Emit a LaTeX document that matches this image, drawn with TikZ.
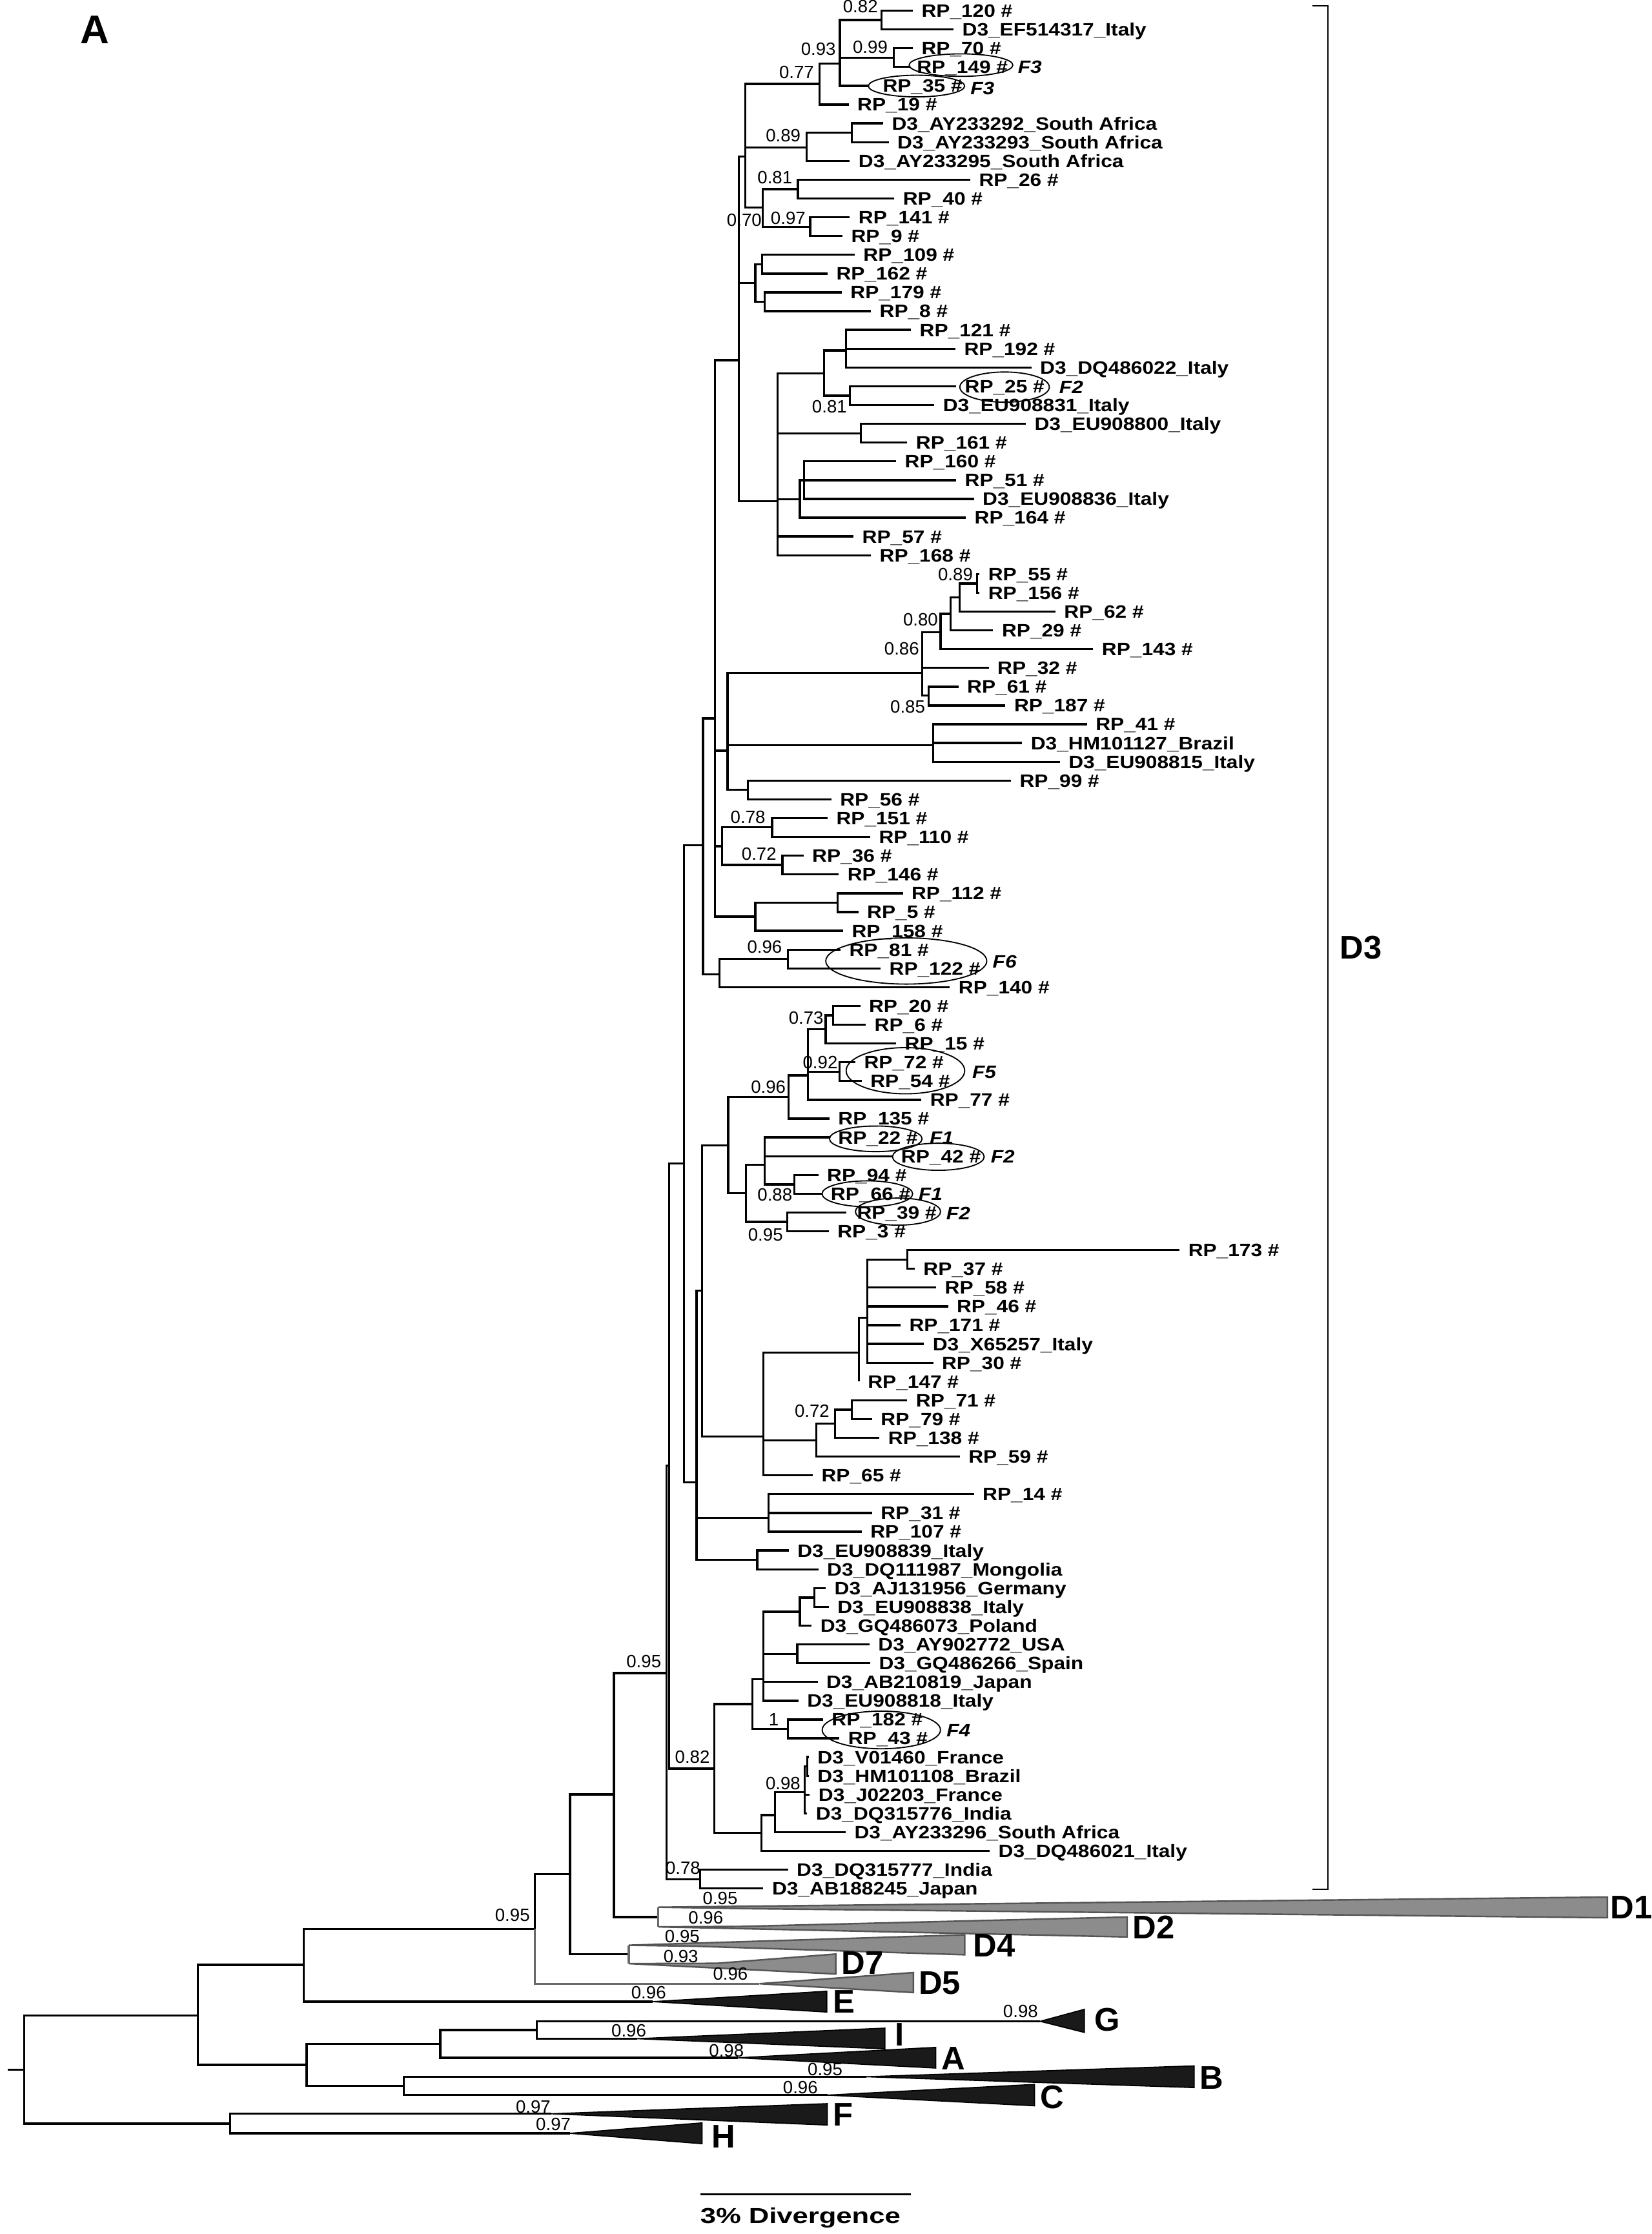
\documentclass[tikz,border=0pt]{standalone}
\usepackage{fontspec}
\setmainfont{Liberation Sans}
\newfontfamily\tipfam[FakeStretch=1.14]{Liberation Sans}
\newfontfamily\scfam[FakeStretch=1.3]{Liberation Sans}
\usetikzlibrary{calc}
\definecolor{dgray}{HTML}{555555}
\definecolor{lgray}{HTML}{8C8C8C}
\definecolor{bfill}{HTML}{1A1A1A}
\definecolor{bgray}{HTML}{6A6A6A}
\newcommand\mytip[5][6]{%
  \pgfmathsetmacro\tipy{7.5+(#2-1)*13.18}%
  \coordinate (t#2) at (#4,\tipy);
  \draw[br] (#3) |- (t#2);
  \pgfmathsetmacro\labx{#4+#1}%
  \pgfmathsetmacro\laby{\tipy+4.5}%
  \node[tiplab] (tl#2) at (\labx,\laby) {#5};
}
\begin{document}
\begin{tikzpicture}[x=0.5mm,y=-0.5mm,
  br/.style={line width=0.75mm,line join=miter},
  gbr/.style={br,draw=bgray},
  tiplab/.style={font=\tipfam\bfseries\fontsize{17.9}{18}\selectfont,anchor=base west,inner sep=0pt},
  sup/.style={font=\fontsize{17.8}{18}\selectfont,inner sep=0pt},
  big/.style={font=\bfseries\fontsize{32.7}{34}\selectfont,anchor=west,inner sep=0pt},
  flab/.style={font=\tipfam\bfseries\itshape\fontsize{17.9}{18}\selectfont,anchor=west,inner sep=0pt},
  ell/.style={line width=0.42mm},
  dclade/.style={fill=lgray,draw=dgray,line width=0.55mm,line join=miter},
  bclade/.style={fill=bfill,draw=black,line width=0.4mm,line join=miter}]
\useasboundingbox (0,0) rectangle (1159,1568);
% ---------- internal nodes ----------
\coordinate (a1) at (618.5,14.1);
\coordinate (a2) at (627.1,40.5);
\coordinate (a3) at (589.4,44.6);
\coordinate (a4) at (575.1,58.9);
\coordinate (b2) at (597.7,93.2);
\coordinate (b1) at (566,103.4);
\coordinate (c2) at (560,132.7);
\coordinate (c3) at (568.6,159.1);
\coordinate (c1) at (535.3,145.7);
\coordinate (n523) at (523.1,110);
\coordinate (d1) at (534.8,185.4);
\coordinate (d2) at (536.6,211.8);
\coordinate (d0) at (530.1,198.6);
\coordinate (e1) at (593.8,246);
\coordinate (e2) at (596.4,277.7);
\coordinate (e0) at (578.2,262);
\coordinate (e3) at (604.2,304.1);
\coordinate (e5) at (564.4,337);
\coordinate (e4) at (561.3,350.3);
\coordinate (E0) at (545.7,351.7);
\coordinate (n518) at (518.4,252.8);
\coordinate (f5) at (685.6,409.5);
\coordinate (f4) at (673.6,419.4);
\coordinate (f3) at (667.1,430.9);
\coordinate (f2) at (660.1,443.7);
\coordinate (f6) at (651.8,488.3);
\coordinate (f1) at (647.1,472.2);
\coordinate (g1) at (654.9,523);
\coordinate (g2) at (524.9,554.3);
\coordinate (n510) at (510.6,526.9);
\coordinate (h1) at (541.8,580.7);
\coordinate (h2) at (549.1,607.1);
\coordinate (n506) at (506.7,594);
\coordinate (i1) at (587.8,633.5);
\coordinate (i0) at (530.1,643.3);
\coordinate (n502) at (501.8,504.3);
\coordinate (j1) at (553,673);
\coordinate (n505) at (504.9,683.9);
\coordinate (n493) at (493.3,593.3);
\coordinate (k3) at (584.7,712.6);
\coordinate (k2) at (579.5,722.5);
\coordinate (k4) at (589.1,752.2);
\coordinate (k1) at (567,754.8);
\coordinate (k0) at (553.5,770);
\coordinate (l3) at (557.4,831.3);
\coordinate (l2) at (536.6,817.5);
\coordinate (l4) at (552.5,857.6);
\coordinate (l1) at (523.6,837.6);
\coordinate (n511) at (511,803.9);
\coordinate (m3) at (636.7,884);
\coordinate (m2) at (608.6,925);
\coordinate (m1) at (602.9,949.3);
\coordinate (n3) at (597.7,989.4);
\coordinate (n2) at (586,999.3);
\coordinate (n1) at (573,1010.9);
\coordinate (m0) at (535.6,1008.4);
\coordinate (n493b) at (492.7,905.8);
\coordinate (o1) at (539.3,1065.4);
\coordinate (o2) at (531.4,1094.9);
\coordinate (n489) at (488.8,1040.3);
\coordinate (n480) at (480.1,816.6);
\coordinate (p2) at (571.6,1121.3);
\coordinate (p1) at (561.3,1131.2);
\coordinate (p3) at (559.5,1160.9);
\coordinate (p0) at (535.7,1178.5);
\coordinate (p4) at (553,1213.6);
\coordinate (pA) at (527.9,1196);
\coordinate (q3) at (566.4,1239.8);
\coordinate (q2) at (564.6,1258);
\coordinate (q1) at (543.8,1273.9);
\coordinate (q0) at (534.3,1286.5);
\coordinate (n082) at (501.2,1241.3);
\coordinate (nA) at (469.6,1028.7);
\coordinate (r1) at (491.3,1318.9);
\coordinate (nB) at (467.7,1174.3);
\coordinate (n095) at (430.8,1259.5);
\coordinate (D12) at (462,1345.5);
\coordinate (Rf) at (400,1315.5);
\coordinate (D47) at (441.2,1371.7);
\coordinate (Re) at (375.5,1353.9);
\coordinate (Rc) at (213.3,1379);
\coordinate (Ri) at (376.7,1424.8);
\coordinate (Rg) at (309,1434.5);
\coordinate (Rh) at (283.5,1464.1);
\coordinate (Rd) at (215.2,1449.3);
\coordinate (Ra) at (139,1414.7);
\coordinate (Rb) at (161.5,1490.5);
\coordinate (R) at (16.9,1452.6);
\coordinate (R0) at (5.6,1452.6);
% ---------- internal edges ----------
\foreach \p/\c in {a3/a1,a3/a2,a4/a3,b1/b2,c1/c2,c1/c3,n523/a4,n523/b1,n523/c1,d0/d1,d0/d2,e0/e1,e0/e2,e4/e5,E0/e0,E0/e3,E0/e4,n518/n523,n518/d0,n518/E0,f4/f5,f3/f4,f2/f3,f1/f2,f1/f6,n510/f1,n510/g1,n510/g2,n506/h1,n506/h2,i0/i1,n502/n518,n502/n510,n502/n506,n502/i0,n505/j1,n493/n502,n493/n505,k2/k3,k1/k2,k1/k4,k0/k1,l2/l3,l1/l2,l1/l4,n511/k0,n511/l1,m2/m3,m1/m2,n2/n3,n1/n2,m0/m1,m0/n1,n493b/n511,n493b/m0,n489/n493b,n489/o1,n489/o2,n480/n493,n480/n489,p1/p2,p0/p1,p0/p3,pA/p0,pA/p4,q2/q3,q1/q2,q0/q1,n082/pA,n082/q0,nA/n480,nA/n082,nB/nA,nB/r1,n095/nB,n095/D12,Rf/n095,Rf/D47,Re/Rf,Rc/Re,Rg/Ri,Rd/Rg,Rd/Rh,Ra/Rc,Ra/Rd,R/Ra,R/Rb}
  \draw[br] (\p) |- (\c);
\draw[br] (R0) -- (R);
% ---------- tips ----------
\mytip{1}{a1}{640.6}{RP\_120 \#}
\mytip{2}{a1}{669.2}{D3\_EF514317\_Italy}
\mytip{3}{a2}{640.6}{RP\_70 \#}
\mytip[4.5]{4}{a2}{638.8}{RP\_149 \#}
\mytip[10]{5}{a3}{609.4}{RP\_35 \#}
\mytip{6}{a4}{595.6}{RP\_19 \#}
\mytip{7}{b2}{619.8}{D3\_AY233292\_South Africa}
\mytip{8}{b2}{623.7}{D3\_AY233293\_South Africa}
\mytip{9}{b1}{596.4}{D3\_AY233295\_South Africa}
\mytip{10}{c2}{680.9}{RP\_26 \#}
\mytip{11}{c2}{627.6}{RP\_40 \#}
\mytip{12}{c3}{596.4}{RP\_141 \#}
\mytip{13}{c3}{591.2}{RP\_9 \#}
\mytip{14}{d1}{599.8}{RP\_109 \#}
\mytip{15}{d1}{580.8}{RP\_162 \#}
\mytip{16}{d2}{590.7}{RP\_179 \#}
\mytip{17}{d2}{611.2}{RP\_8 \#}
\mytip{18}{e1}{639.3}{RP\_121 \#}
\mytip{19}{e1}{670.5}{RP\_192 \#}
\mytip{20}{e1}{723.8}{D3\_DQ486022\_Italy}
\mytip{21}{e2}{671}{RP\_25 \#}
\mytip{22}{e2}{655.7}{D3\_EU908831\_Italy}
\mytip{23}{e3}{719.9}{D3\_EU908800\_Italy}
\mytip{24}{e3}{636.7}{RP\_161 \#}
\mytip{25}{e5}{628.9}{RP\_160 \#}
\mytip{26}{e5}{671}{RP\_51 \#}
\mytip{27}{e5}{683.5}{D3\_EU908836\_Italy}
\mytip{28}{e4}{677.8}{RP\_164 \#}
\mytip{29}{E0}{599}{RP\_57 \#}
\mytip{30}{E0}{611.2}{RP\_168 \#}
\mytip{31}{f5}{687.4}{RP\_55 \#}
\mytip{32}{f5}{687.4}{RP\_156 \#}
\mytip{33}{f4}{740.7}{RP\_62 \#}
\mytip{34}{f3}{697}{RP\_29 \#}
\mytip{35}{f2}{767.2}{RP\_143 \#}
\mytip{36}{f1}{693.9}{RP\_32 \#}
\mytip{37}{f6}{672.6}{RP\_61 \#}
\mytip{38}{f6}{705.6}{RP\_187 \#}
\mytip{39}{g1}{762.8}{RP\_41 \#}
\mytip{40}{g1}{717.3}{D3\_HM101127\_Brazil}
\mytip{41}{g1}{743.8}{D3\_EU908815\_Italy}
\mytip{42}{g2}{709.5}{RP\_99 \#}
\mytip{43}{g2}{583.4}{RP\_56 \#}
\mytip{44}{h1}{580.8}{RP\_151 \#}
\mytip{45}{h1}{610.7}{RP\_110 \#}
\mytip{46}{h2}{563.9}{RP\_36 \#}
\mytip{47}{h2}{588.6}{RP\_146 \#}
\mytip{48}{i1}{633.6}{RP\_112 \#}
\mytip{49}{i1}{602.4}{RP\_5 \#}
\mytip{50}{i0}{591.7}{RP\_158 \#}
\mytip{51}{j1}{589.9}{RP\_81 \#}
\mytip{52}{j1}{618}{RP\_122 \#}
\mytip{53}{n505}{666.6}{RP\_140 \#}
\mytip{54}{k3}{603.7}{RP\_20 \#}
\mytip{55}{k3}{607.6}{RP\_6 \#}
\mytip{56}{k2}{628.9}{RP\_15 \#}
\mytip{57}{k4}{600.3}{RP\_72 \#}
\mytip{58}{k4}{604.7}{RP\_54 \#}
\mytip{59}{k1}{646.6}{RP\_77 \#}
\mytip{60}{k0}{582.1}{RP\_135 \#}
\mytip{61}{l2}{582.1}{RP\_22 \#}
\mytip{62}{l2}{626.3}{RP\_42 \#}
\mytip{63}{l3}{574.3}{RP\_94 \#}
\mytip{64}{l3}{576.9}{RP\_66 \#}
\mytip[7.5]{65}{l4}{593.8}{RP\_39 \#}
\mytip{66}{l4}{581.6}{RP\_3 \#}
\mytip{67}{m3}{827.8}{RP\_173 \#}
\mytip{68}{m3}{641.9}{RP\_37 \#}
\mytip{69}{m2}{657}{RP\_58 \#}
\mytip{70}{m2}{665.3}{RP\_46 \#}
\mytip{71}{m2}{632}{RP\_171 \#}
\mytip{72}{m2}{648.4}{D3\_X65257\_Italy}
\mytip{73}{m2}{654.9}{RP\_30 \#}
\mytip{74}{m1}{602.9}{RP\_147 \#}
\mytip{75}{n3}{636.7}{RP\_71 \#}
\mytip{76}{n3}{612}{RP\_79 \#}
\mytip{77}{n2}{617.2}{RP\_138 \#}
\mytip{78}{n1}{673.6}{RP\_59 \#}
\mytip{79}{m0}{570.4}{RP\_65 \#}
\mytip{80}{o1}{683.5}{RP\_14 \#}
\mytip{81}{o1}{612}{RP\_31 \#}
\mytip{82}{o1}{604.7}{RP\_107 \#}
\mytip{83}{o2}{553.5}{D3\_EU908839\_Italy}
\mytip{84}{o2}{574.3}{D3\_DQ111987\_Mongolia}
\mytip{85}{p2}{579.5}{D3\_AJ131956\_Germany}
\mytip{86}{p2}{581.6}{D3\_EU908838\_Italy}
\mytip{87}{p1}{569.6}{D3\_GQ486073\_Poland}
\mytip{88}{p3}{610.2}{D3\_AY902772\_USA}
\mytip{89}{p3}{610.7}{D3\_GQ486266\_Spain}
\mytip{90}{p0}{573.8}{D3\_AB210819\_Japan}
\mytip{91}{p0}{560.3}{D3\_EU908818\_Italy}
\mytip{92}{p4}{577.6}{RP\_182 \#}
\mytip{93}{p4}{589.1}{RP\_43 \#}
\mytip{94}{q3}{567.6}{D3\_V01460\_France}
\mytip{95}{q3}{567.6}{D3\_HM101108\_Brazil}
\mytip{96}{q2}{568.3}{D3\_J02203\_France}
\mytip{97}{q2}{566.5}{D3\_DQ315776\_India}
\mytip{98}{q1}{593.5}{D3\_AY233296\_South Africa}
\mytip{99}{q0}{694.6}{D3\_DQ486021\_Italy}
\mytip{100}{r1}{553}{D3\_DQ315777\_India}
\mytip{101}{r1}{535.7}{D3\_AB188245\_Japan}
% ---------- collapsed clades ----------
\coordinate (D1p) at (462,1338.6); \coordinate (D1t) at (1128,1331.5);
\coordinate (D1b) at (1128,1346); \coordinate (D1a) at (522,1339.6);
\coordinate (D2p) at (462,1352.4); \coordinate (D2a) at (520,1352.1);
\coordinate (D2t) at (791,1345.5); \coordinate (D2b) at (791,1359.5);
\coordinate (D4p) at (441.2,1365.3); \coordinate (D4t) at (677,1358);
\coordinate (D4b) at (677,1372); \coordinate (D4a) at (488,1366);
\coordinate (D7p) at (441.2,1378.2); \coordinate (D7a) at (503,1378);
\coordinate (D7t) at (586.5,1371.5); \coordinate (D7b) at (586.5,1385.5);
\coordinate (D5a) at (533,1392.3); \coordinate (D5t) at (641,1384.5); \coordinate (D5b) at (641,1398.5);
\draw[gbr] (D12) |- (D1p);
\draw[gbr] (D12) |- (D2p);
\draw[gbr] (D47) |- (D4p);
\draw[gbr] (D47) |- (D7p);
\draw[gbr] (Re) |- (D5a);
\draw[dclade] (D1p) -- (D1t) -- (D1b) -- (D1a) -- cycle;
\draw[dclade] (D2p) -- (D2a) -- (D2t) -- (D2b) -- cycle;
\draw[dclade] (D4p) -- (D4t) -- (D4b) -- (D4a) -- cycle;
\draw[dclade] (D7p) -- (D7a) -- (D7t) -- (D7b) -- cycle;
\draw[dclade] (D5a) -- (D5t) -- (D5b) -- cycle;
\coordinate (Ea) at (458.2,1404.9); \coordinate (Et) at (580.2,1397.6); \coordinate (Eb) at (580.2,1412.2);
\coordinate (Ga) at (730,1418.7); \coordinate (Gt) at (761,1410.3); \coordinate (Gb) at (761,1426.5);
\coordinate (Ia) at (447,1430.9); \coordinate (It) at (621,1423.5); \coordinate (Ib) at (621,1438);
\coordinate (Aa) at (518,1444.3); \coordinate (At) at (656.7,1437); \coordinate (Ab) at (656.7,1451.5);
\coordinate (Ba) at (608,1457.6); \coordinate (Bt) at (838,1450); \coordinate (Bb) at (838,1465.2);
\coordinate (Ca) at (580.8,1470.5); \coordinate (Ct) at (726,1463); \coordinate (Cb) at (726,1478);
\coordinate (Fa) at (387,1483.6); \coordinate (Ft) at (580.6,1476.5); \coordinate (Fb) at (580.6,1491.5);
\coordinate (Ha) at (400,1497.3); \coordinate (Ht) at (492.7,1490); \coordinate (Hb) at (492.7,1504.6);
\foreach \p/\c in {Rc/Ea,Ri/Ga,Ri/Ia,Rg/Aa,Rh/Ba,Rh/Ca,Rb/Fa,Rb/Ha}
  \draw[br] (\p) |- (\c);
\foreach \k in {E,G,I,A,B,C,F,H}
  \draw[bclade] (\k a) -- (\k t) -- (\k b) -- cycle;
% ---------- ellipses ----------
\draw[ell] (674.4,45.7) ellipse [x radius=18.2mm, y radius=3.95mm];
\draw[ell] (643.2,60.4) ellipse [x radius=16.9mm, y radius=3.8mm];
\draw[ell] (705,271.7) ellipse [x radius=15.7mm, y radius=5.3mm];
\draw[ell] (636,674.5) ellipse [x radius=28.25mm, y radius=8.1mm];
\draw[ell] (635.4,751.5) ellipse [x radius=20.8mm, y radius=8.1mm];
\draw[ell] (614.6,799.3) ellipse [x radius=16.25mm, y radius=4.5mm];
\draw[ell] (658.5,811.9) ellipse [x radius=16.1mm, y radius=4.75mm];
\draw[ell] (608.7,837.9) ellipse [x radius=15.9mm, y radius=4.55mm];
\draw[ell] (630.2,850.4) ellipse [x radius=14.95mm, y radius=4.75mm];
\draw[ell] (618.5,1214.2) ellipse [x radius=20.75mm, y radius=6.6mm];
% ---------- F labels ----------
\node[flab] (fa) at (714.2,47.1) {F3};
\node[flab] (fb) at (680.9,62.2) {F3};
\node[flab] (fc) at (743.3,271.7) {F2};
\node[flab] (fd) at (696.5,674.8) {F6};
\node[flab] (fe) at (682.2,752.6) {F5};
\node[flab] (ff) at (652.3,798.6) {F1};
\node[flab] (fg) at (695.2,811.9) {F2};
\node[flab] (fh) at (644.5,837.9) {F1};
\node[flab] (fi) at (664,851.5) {F2};
\node[flab] (fj) at (664.2,1214.6) {F4};
% ---------- support values ----------
\foreach \x/\y/\t [count=\i] in {603.8/4.5/0.82, 574.3/34.4/0.93, 610.7/33.2/0.99, 559/50.6/0.77,
  549.6/95.1/0.89, 543.8/124.6/0.81, 522.3/154.4/0.70, 553.1/152.9/0.97, 582.1/285.6/0.81,
  670.5/403.1/0.89, 646/434.8/0.80, 632.8/455.2/0.86, 637/496/0.85, 524.9/573.7/0.78,
  532.7/599.3/0.72, 536.6/664.7/0.96, 565.7/714.3/0.73, 575.6/745.6/0.92, 539.2/763/0.96,
  543.8/838.4/0.88, 537.2/866.6/0.95, 569.9/990.3/0.72, 451.8/1166.2/0.95, 485.9/1233.4/0.82,
  543/1207/1, 549.5/1251.6/0.98, 479.3/1311.2/0.78, 505.4/1332.3/0.95, 495.3/1346/0.96,
  478.8/1359/0.95, 477.8/1373/0.93, 512.6/1385.4/0.96, 455.2/1398.5/0.96, 359.6/1344.2/0.95,
  441.3/1425.2/0.96, 509.8/1439.4/0.98, 716.2/1411.6/0.98, 579/1452.3/0.95, 561.7/1465/0.96,
  374.2/1478.7/0.97, 388.3/1490.8/0.97}
  \node[sup] (s\i) at (\x,\y) {\t};
% ---------- clade labels ----------
\node[big] (LD1) at (1130.2,1338.6) {D1};
\node[big] (LD2) at (794.7,1352.6) {D2};
\node[big] (LD4) at (682.8,1365.5) {D4};
\node[big] (LD7) at (590.6,1377.6) {D7};
\node[big] (LD5) at (644.7,1391.9) {D5};
\node[big] (LE) at (584.7,1404.7) {E};
\node[big] (LG) at (768,1417.5) {G};
\node[big] (LI) at (627.9,1428) {I};
\node[big] (LA) at (660.4,1444.7) {A};
\node[big] (LB) at (841.8,1458.3) {B};
\node[big] (LC) at (729.9,1471.9) {C};
\node[big] (LF) at (584.7,1484) {F};
\node[big] (LH) at (499.5,1499.7) {H};
\node[big] (LD3) at (940.2,664.9) {D3};
% ---------- bracket ----------
\coordinate (bk1) at (921,4); \coordinate (bk2) at (932,4);
\coordinate (bk3) at (932,1326); \coordinate (bk4) at (921,1326);
\draw[line width=0.45mm] (bk1) -- (bk2) -- (bk3) -- (bk4);
% ---------- panel label and scale ----------
\node[font=\bfseries\fontsize{40}{42}\selectfont,inner sep=0pt] (panelA) at (66.6,21) {A};
\coordinate (sb1) at (491.5,1540.3); \coordinate (sb2) at (639.4,1540.3);
\draw[line width=0.65mm] (sb1) -- (sb2);
\node[font=\scfam\bfseries\fontsize{21.6}{22}\selectfont,inner sep=0pt] (scl) at (561.7,1556.7) {3\% Divergence};
\end{tikzpicture}
\end{document}
